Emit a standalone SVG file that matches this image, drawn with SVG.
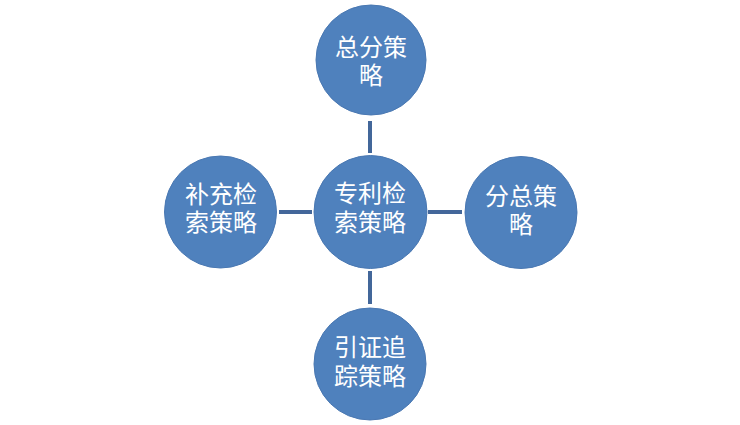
<svg xmlns="http://www.w3.org/2000/svg" width="740" height="425" viewBox="0 0 740 425">
<style>
.node circle{fill:#4f81bd;stroke:#4a78b2;stroke-width:1}
.node text{fill:#ffffff;font-family:"Liberation Sans","Noto Sans CJK SC",sans-serif;font-size:24px;text-anchor:middle}
.conn line{stroke:#43679a;stroke-width:4}
</style>
<rect width="740" height="425" fill="#ffffff"/>
<g id="connectors" class="conn">
<line x1="370" y1="121" x2="370" y2="153"/>
<line x1="370" y1="271" x2="370" y2="304"/>
<line x1="279" y1="212" x2="312" y2="212"/>
<line x1="428" y1="212" x2="462" y2="212"/>
</g>
<g id="center" class="node">
<circle cx="370.5" cy="212" r="56.5"/>
<text x="370" y="201.5">专利检</text>
<text x="370" y="230.5">索策略</text>
</g>
<g id="top" class="node">
<circle cx="371" cy="60" r="55"/>
<text x="371" y="56">总分策</text>
<text x="371" y="84">略</text>
</g>
<g id="left" class="node">
<circle cx="220.5" cy="212" r="56"/>
<text x="221" y="203">补充检</text>
<text x="221" y="231">索策略</text>
</g>
<g id="right" class="node">
<circle cx="521" cy="212.5" r="56"/>
<text x="521" y="205">分总策</text>
<text x="521" y="233">略</text>
</g>
<g id="bottom" class="node">
<circle cx="370" cy="364" r="56"/>
<text x="370" y="356">引证追</text>
<text x="370" y="385">踪策略</text>
</g>
</svg>
